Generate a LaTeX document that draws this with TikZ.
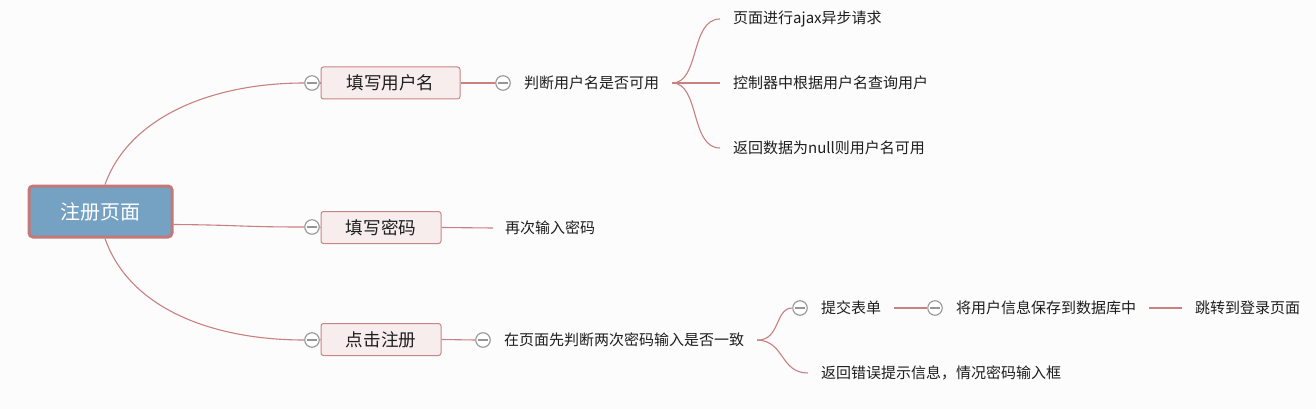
\documentclass[tikz,border=0pt]{standalone}
\usepackage{fontspec}
\setmainfont{Noto Sans CJK SC}
\usetikzlibrary{calc,backgrounds}
\definecolor{bgcol}{RGB}{252,252,252}
\definecolor{rootfill}{RGB}{117,161,194}
\definecolor{rootborder}{RGB}{196,120,120}
\definecolor{boxfill}{RGB}{247,237,237}
\definecolor{boxborder}{RGB}{201,133,133}
\definecolor{linecol}{RGB}{201,128,128}
\definecolor{minusgray}{RGB}{150,150,150}
\definecolor{txt}{RGB}{30,30,30}
\begin{document}
\begin{tikzpicture}[x=1pt,y=-1pt,
  rootbox/.style={draw=rootborder, line width=3pt, fill=rootfill, rounded corners=4pt,
    minimum width=143pt, minimum height=51pt, inner sep=0pt, text=white,
    font=\fontsize{20}{24}\selectfont},
  childbox/.style={draw=boxborder, line width=1pt, fill=boxfill, rounded corners=2.5pt,
    minimum width=139pt, minimum height=32pt, inner sep=0pt, text=txt,
    font=\fontsize{17.6}{21}\selectfont},
  leaf/.style={anchor=west, inner xsep=13pt, inner ysep=2pt, text=txt,
    font=\fontsize{15}{18}\selectfont},
  conn/.style={draw=linecol, line width=1.1pt},
  minus/.style={circle, draw=minusgray, fill=white, line width=1.1pt, minimum size=14.5pt, inner sep=0pt,
    path picture={\draw[minusgray, line width=1.1pt] ([xshift=2.5pt]path picture bounding box.west) -- ([xshift=-2.5pt]path picture bounding box.east);}}
]
\useasboundingbox (0,0) rectangle (1316,409);

\node[rootbox] (root) at (100.5,211.5) {注册页面};
\node[childbox] (b1) at (390.5,83) {填写用户名};
\node[childbox, minimum width=120pt] (b2) at (381,227.5) {填写密码};
\node[childbox, minimum width=120pt] (b3) at (381,339.5) {点击注册};
\node[minus] (m1) at (312,83) {};
\node[minus] (m2) at (312,227) {};
\node[minus] (m3) at (312,340) {};

\node[minus] (m4) at (503,83) {};
\node[leaf] (t1) at (m4.east) {判断用户名是否可用};
\node[leaf] (l1) at (720,19) {页面进行ajax异步请求};
\node[leaf] (l2) at (720,83) {控制器中根据用户名查询用户};
\node[leaf] (l3) at (720,148) {返回数据为null则用户名可用};

\node[leaf, inner xsep=12pt] (t2) at (493,228) {再次输入密码};

\node[minus] (m5) at (483,340) {};
\node[leaf] (t3) at (m5.east) {在页面先判断两次密码输入是否一致};
\node[minus] (m6) at (800,308) {};
\node[leaf] (t4) at (m6.east) {提交表单};
\node[minus] (m7) at (935,308) {};
\node[leaf] (t5) at (m7.east) {将用户信息保存到数据库中};
\node[leaf] (t6) at (1182,308) {跳转到登录页面};
\node[leaf] (t7) at (808,373) {返回错误提示信息，情况密码输入框};

\begin{scope}[on background layer]
\fill[bgcol] (0,0) rectangle (1316,409);
\draw[conn] ($(root.north)+(4.5,0)$) .. controls (130,115) and (215,83) .. (m1.west);
\draw[conn] ($(root.east)+(0,13)$) .. controls (240,225) and (240,227) .. (m2.west);
\draw[conn] ($(root.south)+(4.5,0)$) .. controls (130,310) and (215,340) .. (m3.west);
\draw[conn] (m1.east) -- (b1.west);
\draw[conn] (m2.east) -- (b2.west);
\draw[conn] (m3.east) -- (b3.west);
\draw[conn] (b1.east) -- (m4.west);
\draw[conn] (t1.east) .. controls (700,83) and (690,19) .. (l1.west);
\draw[conn] (t1.east) -- (l2.west);
\draw[conn] (t1.east) .. controls (700,83) and (690,148) .. (l3.west);
\draw[conn] (b2.east) -- (t2.west);
\draw[conn] (b3.east) -- (m5.west);
\draw[conn] (t3.east) .. controls (780,341) and (775,308) .. (m6.west);
\draw[conn] (t3.east) .. controls (785,341) and (780,373) .. (t7.west);
\draw[conn] (t4.east) -- (m7.west);
\draw[conn] (t5.east) -- (t6.west);
\end{scope}
\end{tikzpicture}
\end{document}
